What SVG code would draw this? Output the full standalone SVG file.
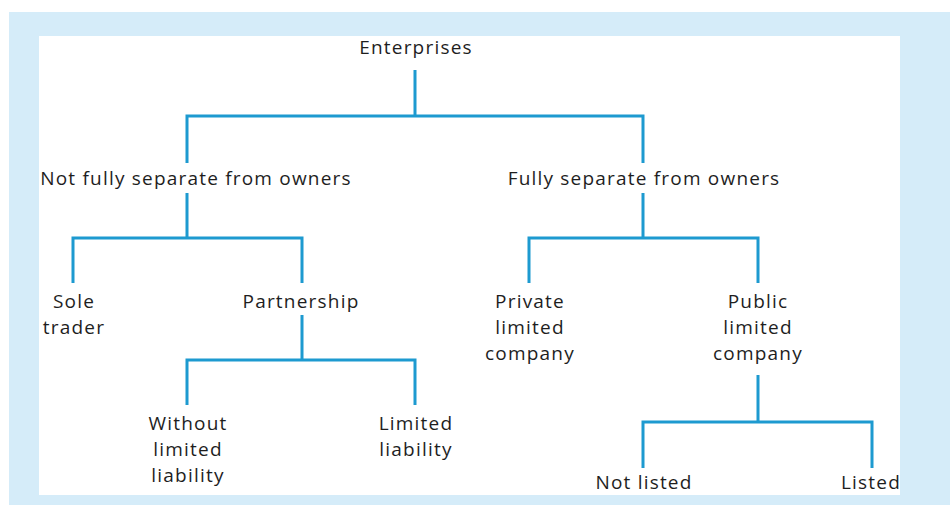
<svg xmlns="http://www.w3.org/2000/svg" width="950" height="505" viewBox="0 0 950 505">
<style>
text{font-family:"Open Sans","Noto Sans","Liberation Sans",sans-serif;font-size:19px;letter-spacing:1.2px;fill:#1e1e1e;text-anchor:middle}
.c path{fill:none;stroke:#1d9ad0;stroke-width:3}
</style>
<rect x="0" y="0" width="950" height="505" fill="#fff"/>
<rect x="9" y="12" width="941" height="493" fill="#d5ecf9"/>
<rect x="39" y="36" width="861" height="459" fill="#fff"/>
<g class="c" id="connectors">
<path d="M415 70V116M187 163V116H643V163"/>
<path d="M187 193V238M73 283V238H302V283"/>
<path d="M643 193V238M529 283V238H758V283"/>
<path d="M302 315V360M187 405V360H415V405"/>
<path d="M758 375V422M643 468V422H872V468"/>
</g>
<g id="enterprises"><text x="416" y="54">Enterprises</text></g>
<g id="not-fully"><text x="196" y="185">Not fully separate from owners</text></g>
<g id="fully"><text x="644" y="185">Fully separate from owners</text></g>
<g id="sole"><text x="74" y="308">Sole</text><text x="74" y="334">trader</text></g>
<g id="partnership"><text x="301" y="308">Partnership</text></g>
<g id="private"><text x="530" y="308">Private</text><text x="530" y="334">limited</text><text x="530" y="360">company</text></g>
<g id="public"><text x="758" y="308">Public</text><text x="758" y="334">limited</text><text x="758" y="360">company</text></g>
<g id="without"><text x="188" y="430">Without</text><text x="188" y="456">limited</text><text x="188" y="482">liability</text></g>
<g id="limited"><text x="416" y="430">Limited</text><text x="416" y="456">liability</text></g>
<g id="notlisted"><text x="644" y="489">Not listed</text></g>
<g id="listed"><text x="871" y="489">Listed</text></g>
</svg>
